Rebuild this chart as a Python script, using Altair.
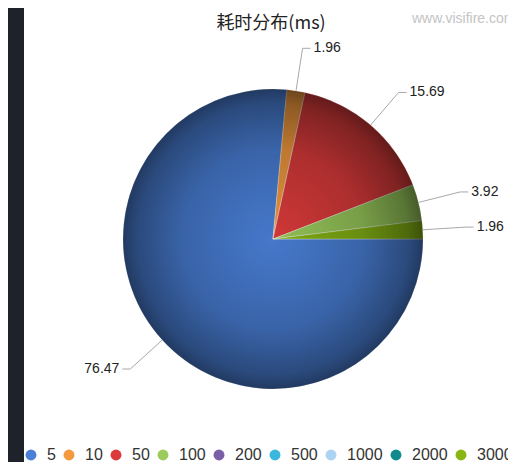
import math
import altair as alt
import pandas as pd

# ---------------- data ----------------
title_text = "耗时分布(ms)"
watermark_text = "www.visifire.com"

legend_cats = ["5", "10", "50", "100", "200", "500", "1000", "2000", "3000"]
legend_colors = ["#4a80d8", "#f39a3e", "#dd3b3b", "#9acb5c", "#7b5ea8",
                 "#3ab7dc", "#acd3f2", "#118a8c", "#86b514"]

slice_cats = ["5", "10", "50", "100", "3000"]
slice_vals = [76.47, 1.96, 15.69, 3.92, 1.96]
slice_labels = ["76.47", "1.96", "15.69", "3.92", "1.96"]

# ---------------- layout ----------------
W, H = 500, 454
CX, CY = 265, 231
R = 150
R_ELBOW = 193
H_SEG = 8
START = math.pi / 2

pie_df = pd.DataFrame({
    "cat": slice_cats,
    "value": slice_vals,
    "idx": list(range(len(slice_cats))),
})

total = sum(slice_vals)
line_rows, text_rows = [], []
acc = 0.0
for i, (v, lab) in enumerate(zip(slice_vals, slice_labels)):
    mid = (acc + v / 2) / total
    acc += v
    a = START + 2 * math.pi * mid
    s, c = math.sin(a), math.cos(a)
    side = 1 if s >= 0 else -1
    ex, ey = R * s, R * c
    bx, by = R_ELBOW * s, R_ELBOW * c
    hx = bx + side * H_SEG
    line_rows += [
        {"k": i, "o": 0, "x": ex, "y": ey},
        {"k": i, "o": 1, "x": bx, "y": by},
        {"k": i, "o": 2, "x": hx, "y": by},
    ]
    text_rows.append({"x": hx + side * 3, "y": by, "label": lab, "side": side})

line_df = pd.DataFrame(line_rows)
text_df = pd.DataFrame(text_rows)

xs = alt.Scale(domain=[-CX, W - CX], nice=False, zero=False)
ys = alt.Scale(domain=[-(H - CY), CY], nice=False, zero=False)

# background stripe (frame of the original screenshot)
frame = alt.Chart(pd.DataFrame({"a": [0]})).mark_rect(color="#1e222b").encode(
    x=alt.value(0), x2=alt.value(16), y=alt.value(0), y2=alt.value(H)
)

pie = alt.Chart(pie_df).mark_arc(
    radius=R, stroke="#ffffff", strokeWidth=0.8, strokeOpacity=0.45
).encode(
    theta=alt.Theta("value:Q", stack=True,
                    scale=alt.Scale(range=[START, START + 2 * math.pi])),
    color=alt.Color(
        "cat:N",
        scale=alt.Scale(domain=legend_cats, range=legend_colors),
        sort=legend_cats,
        legend=alt.Legend(
            orient="none", legendX=15, legendY=439, direction="horizontal",
            title=None, symbolType="circle", symbolSize=120,
            symbolStrokeWidth=0, symbolOpacity=1,
            labelFontSize=16, labelFont="Liberation Sans",
            labelColor="#333333", labelOffset=8, columnPadding=5,
            padding=0,
        ),
    ),
    order=alt.Order("idx:Q"),
    x=alt.value(CX),
    y=alt.value(CY),
)

shade = alt.Chart(pd.DataFrame({"a": [0]})).mark_arc(
    radius=R, theta=0, theta2=2 * math.pi,
    fill={
        "gradient": "radial",
        "x1": 0.5, "y1": 0.5, "r1": 0,
        "x2": 0.5, "y2": 0.5, "r2": 0.5,
        "stops": [
            {"offset": 0, "color": "rgba(0,0,0,0.06)"},
            {"offset": 0.6, "color": "rgba(0,0,0,0.22)"},
            {"offset": 0.9, "color": "rgba(0,0,0,0.42)"},
            {"offset": 1, "color": "rgba(0,0,0,0.55)"},
        ],
    },
).encode(x=alt.value(CX), y=alt.value(CY))

lines = alt.Chart(line_df).mark_line(color="#a8a8a8", strokeWidth=1).encode(
    x=alt.X("x:Q", scale=xs, axis=None),
    y=alt.Y("y:Q", scale=ys, axis=None),
    detail="k:N",
    order="o:Q",
)

text_right = alt.Chart(text_df).transform_filter("datum.side > 0").mark_text(
    align="left", baseline="middle", fontSize=14, font="Liberation Sans", color="#222222"
).encode(x=alt.X("x:Q", scale=xs, axis=None), y=alt.Y("y:Q", scale=ys, axis=None), text="label:N")

text_left = alt.Chart(text_df).transform_filter("datum.side < 0").mark_text(
    align="right", baseline="middle", fontSize=14, font="Liberation Sans", color="#222222"
).encode(x=alt.X("x:Q", scale=xs, axis=None), y=alt.Y("y:Q", scale=ys, axis=None), text="label:N")

title = alt.Chart(pd.DataFrame({"t": [title_text]})).mark_text(
    align="center", baseline="middle", fontSize=18, font="Noto Sans CJK SC", color="#222222"
).encode(text="t:N", x=alt.value(CX - 2), y=alt.value(16))

wm = alt.Chart(pd.DataFrame({"t": [watermark_text]})).mark_text(
    align="left", baseline="middle", fontSize=14, font="Liberation Sans", color="#c4c4c4"
).encode(text="t:N", x=alt.value(404), y=alt.value(11))

chart = alt.layer(frame, pie, shade, lines, text_right, text_left, title, wm).properties(
    width=W, height=H,
    autosize=alt.AutoSizeParams(type="none"),
    padding=0,
    background="#ffffff",
).configure_view(stroke=None)

chart.save("out.html", embed_options={"renderer": "svg", "actions": False})
